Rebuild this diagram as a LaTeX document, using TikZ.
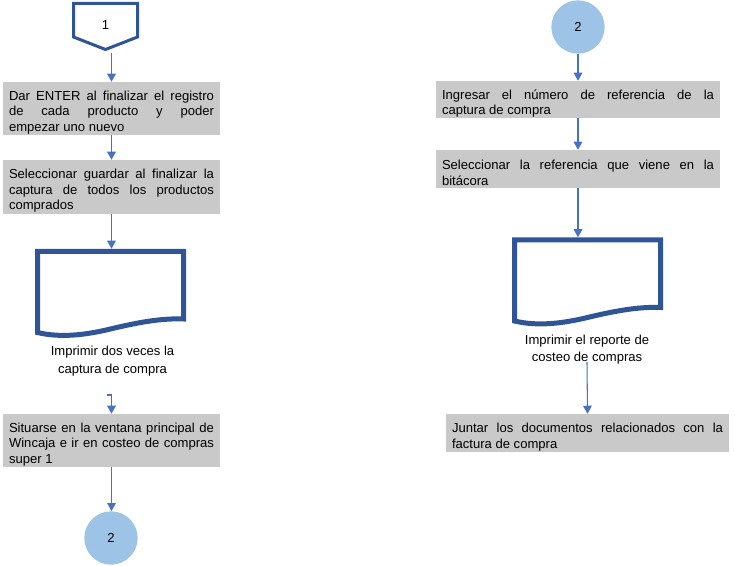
\documentclass[tikz,border=0pt]{standalone}
\usepackage{fontspec}
\setmainfont{Liberation Sans}
\usetikzlibrary{arrows.meta}

\definecolor{grispaso}{HTML}{C9C9C9}
\definecolor{azulborde}{HTML}{2F5597}
\definecolor{azulflecha}{HTML}{4472C4}
\definecolor{azulcirculo}{HTML}{9DC3E6}

\tikzset{
  paso/.style={fill=grispaso, align=justify, inner xsep=4.5pt, inner ysep=0pt,
    font=\fontsize{9.8}{11.6}\selectfont, execute at begin node={\rule{0pt}{13pt}}},
  etiqueta/.style={align=center, font=\fontsize{9.8}{13.3}\selectfont},
  circulo/.style={circle, fill=azulcirculo, minimum size=40pt, inner sep=0pt,
    font=\fontsize{9.8}{11.6}\selectfont},
  flecha/.style={draw=azulflecha, line width=0.8pt, -{Triangle[width=6.5pt,length=6pt]}},
  borde/.style={draw=azulborde, fill=white, line join=miter},
  pics/documento/.style={code={
    \path[borde, line width=3.75pt] (-73,40.5) -- (-73,-40.5) -- (73,-40.5) -- (73,27)
      .. controls (50,26) and (25,31) .. (0,37)
      .. controls (-25,43) and (-50,46) .. (-73,40.5) -- cycle;
    \node[minimum width=113.25pt, minimum height=64.5pt, inner sep=0pt] (-c) at (0,0) {};
  }}
}

\begin{document}
\begin{tikzpicture}[x=0.75pt,y=-0.75pt]
  \useasboundingbox (0,0) rectangle (735,566);

  % columna izquierda
  \path[borde, line width=2.25pt] (73.5,37) -- (73.5,3.5) -- (137.5,3.5) -- (137.5,37) -- (105.5,49.5) -- cycle;
  \node[font=\fontsize{9.8}{11.6}\selectfont] (p1) at (105.5,25) {1};
  \coordinate (p1pie) at (111.5,53);

  \node[paso, text width=153.75pt, minimum height=39.75pt] (b1) at (111.5,108.5)
    {Dar ENTER al finalizar el registro\linebreak de cada producto y poder\linebreak empezar uno nuevo};
  \node[paso, text width=153.75pt, minimum height=40.5pt] (b2) at (111.5,187)
    {Seleccionar guardar al finalizar la\linebreak captura de todos los productos\linebreak comprados};
  \pic (d1) at (110.5,292) {documento};
  \node[etiqueta] (t1) at (112.5,361) {Imprimir dos veces la\\captura de compra};
  \coordinate (h1) at (107,395);
  \node[paso, text width=153.75pt, minimum height=39.75pt] (b3) at (111.5,440.5)
    {Situarse en la ventana principal de\linebreak Wincaja e ir en costeo de compras\linebreak super 1};
  \node[circulo] (k1) at (111,538) {2};

  % columna derecha
  \node[circulo] (k2) at (578,27) {2};
  \node[paso, text width=204pt, minimum height=27.75pt] (b4) at (578,99.5)
    {Ingresar el número de referencia de la\linebreak captura de compra};
  \node[paso, text width=204pt, minimum height=28.5pt] (b5) at (578,169)
    {Seleccionar la referencia que viene en la\linebreak bitácora};
  \pic (d2) at (587.5,280.5) {documento};
  \node[etiqueta] (t2) at (587,349.5) {Imprimir el reporte de\\costeo de compras};
  \coordinate (h2) at (587,362);
  \node[paso, text width=203.25pt, minimum height=28.5pt] (b6) at (587.5,433)
    {Juntar los documentos relacionados con la\linebreak factura de compra};

  \draw[flecha] (p1pie) -- (b1.north);
  \draw[flecha] (b1) -- (b2);
  \draw[flecha] (b2.south) -- (b2.south |- d1-c.north);
  \draw[flecha] (h1) -| (b3.north);
  \draw[flecha] (b3.south) -- (b3.south |- k1.north);

  \draw[flecha] (k2) -- (b4);
  \draw[flecha] (b4) -- (b5);
  \draw[flecha] (b5.south) -- (b5.south |- d2-c.north);
  \draw[flecha] (h2) -- (b6.north);
\end{tikzpicture}
\end{document}
